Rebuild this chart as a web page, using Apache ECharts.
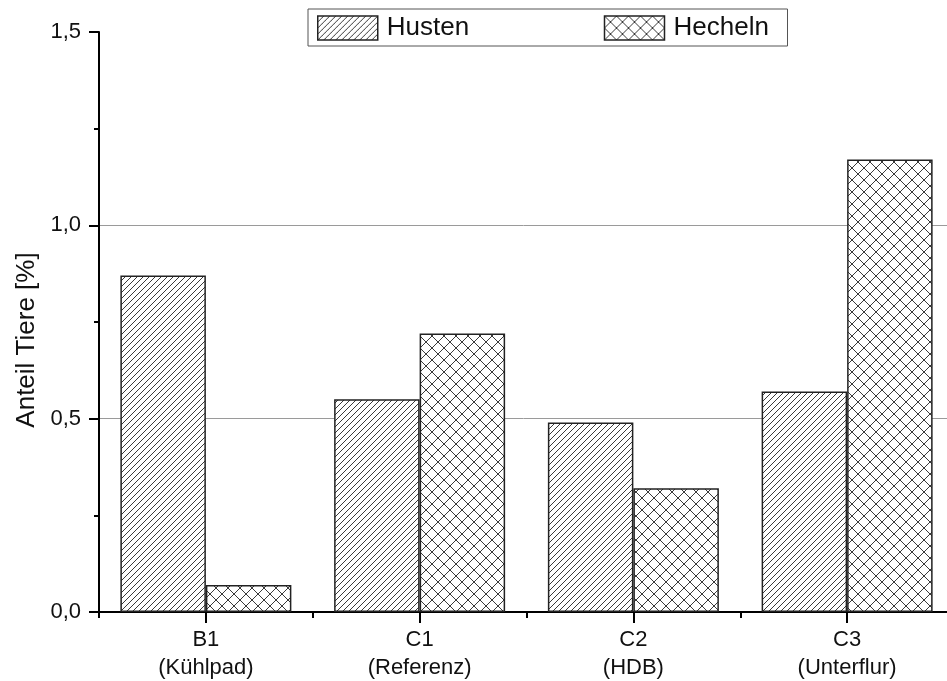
<!DOCTYPE html>
<html>
<head>
<meta charset="utf-8">
<script src="https://cdn.jsdelivr.net/npm/echarts@6/dist/echarts.min.js"></script>
<style>
html,body{margin:0;padding:0;background:#fff;}
#chart{width:947px;height:681px;}
</style>
</head>
<body>
<div id="chart"></div>
<script>
const categories = ['B1\n(Kühlpad)', 'C1\n(Referenz)', 'C2\n(HDB)', 'C3\n(Unterflur)'];
const seriesNames = ['Husten', 'Hecheln'];
const husten = [0.87, 0.55, 0.49, 0.57];
const hecheln = [0.07, 0.72, 0.32, 1.17];
const yMin = 0, yMax = 1.5, yInterval = 0.5;

function makePattern(period, cross) {
  const c = document.createElement('canvas');
  c.width = period; c.height = period;
  const ctx = c.getContext('2d');
  ctx.fillStyle = '#ffffff';
  ctx.fillRect(0, 0, period, period);
  ctx.strokeStyle = '#3a3a3a';
  ctx.lineWidth = 1;
  ctx.beginPath();
  for (const k of [-period, 0, period]) {
    ctx.moveTo(k - 1, period + 1);
    ctx.lineTo(k + period + 1, -1);
    if (cross) {
      ctx.moveTo(k - 1, -1);
      ctx.lineTo(k + period + 1, period + 1);
    }
  }
  ctx.stroke();
  return { image: c, repeat: 'repeat' };
}

const hatch = makePattern(6, false);
const crossHatch = makePattern(12, true);

const chart = echarts.init(document.getElementById('chart'), null, { renderer: 'canvas' });
const fontFamily = '"Liberation Sans", Arial, sans-serif';

chart.setOption({
  backgroundColor: '#ffffff',
  animation: false,
  textStyle: { fontFamily: fontFamily, color: '#111' },
  legend: {
    left: 308,
    top: 9,
    icon: 'rect',
    itemWidth: 60,
    itemHeight: 24,
    itemGap: 107,
    padding: [6, 4, 5, 9],
    borderColor: '#555',
    borderWidth: 1,
    itemStyle: { borderColor: '#222', borderWidth: 1.5 },
    textStyle: { fontSize: 26, color: '#111', width: 110, lineHeight: 24, padding: [0, 0, 0, 4], fontFamily: fontFamily },
    data: seriesNames
  },
  grid: { left: 99, width: 855, top: 32, bottom: 69, containLabel: false, outerBoundsMode: 'none' },
  xAxis: [{
    type: 'category',
    data: categories,
    position: 'bottom',
    axisLine: { show: true, lineStyle: { color: '#000', width: 2 } },
    axisTick: { show: true, alignWithLabel: true, length: 11, lineStyle: { color: '#000', width: 2 } },
    axisLabel: { fontSize: 22, color: '#111', margin: 14, lineHeight: 28, fontFamily: fontFamily },
    splitLine: { show: false }
  }, {
    type: 'category',
    data: categories,
    position: 'bottom',
    axisLine: { show: false },
    axisTick: { show: true, alignWithLabel: false, length: 6, lineStyle: { color: '#000', width: 2 } },
    axisLabel: { show: false },
    splitLine: { show: false }
  }],
  yAxis: {
    type: 'value',
    min: yMin,
    max: yMax,
    interval: yInterval,
    name: 'Anteil Tiere [%]',
    nameLocation: 'middle',
    nameGap: 58,
    nameTextStyle: { fontSize: 26, color: '#111', padding: [0, 36, 0, 0], fontFamily: fontFamily },
    axisLine: { show: true, lineStyle: { color: '#000', width: 2 } },
    axisTick: { show: true, length: 10, lineStyle: { color: '#000', width: 2 } },
    minorTick: { show: true, splitNumber: 2, length: 5, lineStyle: { color: '#000', width: 2 } },
    axisLabel: {
      fontSize: 22, color: '#111', margin: 18, fontFamily: fontFamily,
      formatter: v => v.toFixed(1).replace('.', ',')
    },
    splitLine: { show: true, lineStyle: { color: ['rgba(0,0,0,0)', '#9a9a9a', '#9a9a9a', 'rgba(0,0,0,0)'], width: 1 } }
  },
  series: [{
    name: seriesNames[0],
    type: 'bar',
    data: husten,
    barGap: '0%',
    barCategoryGap: '20%',
    itemStyle: { color: hatch, borderColor: '#222', borderWidth: 1.5 }
  }, {
    name: seriesNames[1],
    type: 'bar',
    data: hecheln,
    barGap: '0%',
    barCategoryGap: '20%',
    itemStyle: { color: crossHatch, borderColor: '#222', borderWidth: 1.5 }
  }]
});
</script>
</body>
</html>
